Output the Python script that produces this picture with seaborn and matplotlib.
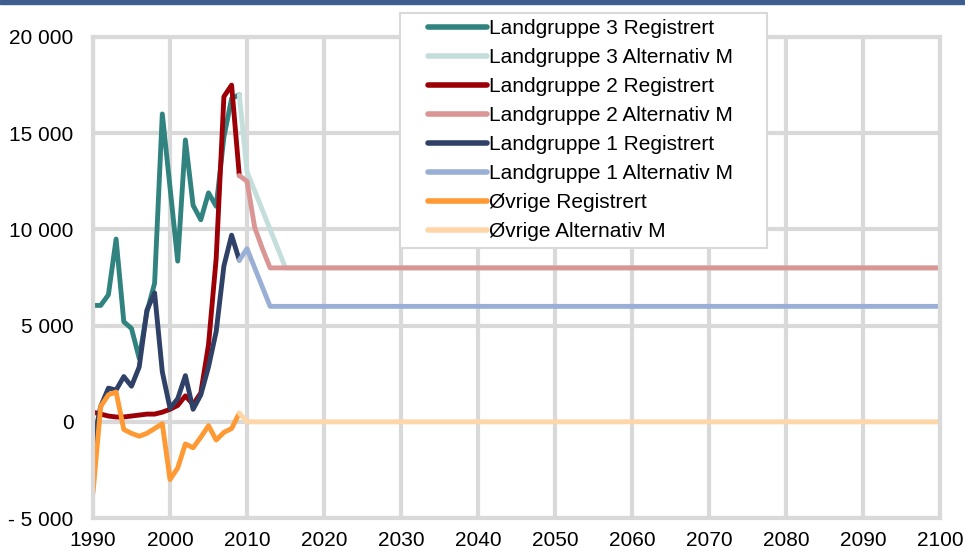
import matplotlib
matplotlib.use('Agg')
import matplotlib.pyplot as plt
from matplotlib.patches import Rectangle
from matplotlib.ticker import FuncFormatter
import seaborn as sns
import numpy as np
import pandas as pd

# registered years and the alternative (projection) break points
years_reg = list(range(1990, 2010))
years_alt = [2009, 2010, 2011, 2012, 2013, 2014, 2015, 2100]

lg3_reg = [6050, 6050, 6600, 9500, 5200, 4850, 3300, 5700, 7200, 16000,
           12200, 8350, 14650, 11250, 10500, 11900, 11200, 14800, 16800, 17000]
lg2_reg = [500, 400, 300, 250, 250, 300, 350, 400, 400, 500,
           650, 850, 1350, 900, 1500, 4000, 8500, 16900, 17500, 12800]
lg1_reg = [-1100, 800, 1750, 1650, 2350, 1850, 2850, 5800, 6700, 2600,
           700, 1200, 2400, 650, 1400, 2850, 4700, 8100, 9700, 8400]
ovr_reg = [-3700, 800, 1400, 1550, -400, -600, -750, -600, -350, -100,
           -3000, -2400, -1150, -1350, -800, -200, -950, -550, -350, 450]

lg3_alt = [17000, 13000, 12000, 11000, 10000, 9000, 8000, 8000]
lg2_alt = [12800, 12500, 10100, 9000, 8000, 8000, 8000, 8000]
lg1_alt = [8400, 9000, 8000, 7000, 6000, 6000, 6000, 6000]
ovr_alt = [450, 0, 0, 0, 0, 0, 0, 0]

names = ['Landgruppe 3 Registrert', 'Landgruppe 3 Alternativ M',
         'Landgruppe 2 Registrert', 'Landgruppe 2 Alternativ M',
         'Landgruppe 1 Registrert', 'Landgruppe 1 Alternativ M',
         'Øvrige Registrert', 'Øvrige Alternativ M']
colors = ['#31837F', '#C3DEDB', '#9C0006', '#D99694',
          '#2F4166', '#9AAFD6', '#FF9933', '#FFD6A8']

series = [(years_reg, lg3_reg), (years_alt, lg3_alt),
          (years_reg, lg2_reg), (years_alt, lg2_alt),
          (years_reg, lg1_reg), (years_alt, lg1_alt),
          (years_reg, ovr_reg), (years_alt, ovr_alt)]

rows = []
for name, (xs, ys) in zip(names, series):
    for x, y in zip(xs, ys):
        rows.append({'year': x, 'value': y, 'serie': name})
df = pd.DataFrame(rows)

sns.set_theme(style='white')
plt.rcParams['font.family'] = ['Liberation Sans', 'DejaVu Sans']

W, H = 965, 551
fig = plt.figure(figsize=(W/100, H/100), dpi=100)
ax = fig.add_axes([93/W, 1-518/H, (940-93)/W, (518-37)/H])

sns.lineplot(data=df, x='year', y='value', hue='serie', hue_order=names,
             palette=dict(zip(names, colors)), linewidth=3.5, ax=ax,
             sort=True, estimator=None)

grid_c = '#D9D9D9'
ax.set_xlim(1990, 2100)
ax.set_ylim(-5000, 20000)
ax.set_xticks(np.arange(1990, 2101, 10))
ax.set_yticks(np.arange(-5000, 20001, 5000))
ax.yaxis.set_major_formatter(FuncFormatter(
    lambda v, p: '0' if v == 0 else ('- ' if v < 0 else '') + f'{abs(int(v)):,}'.replace(',', ' ')))
ax.grid(True, color=grid_c, linewidth=3)
ax.set_axisbelow(True)
for s in ax.spines.values():
    s.set_color(grid_c)
    s.set_linewidth(3)
ax.tick_params(axis='both', length=0, labelsize=15, colors='black')
ax.tick_params(axis='y', pad=14)
ax.tick_params(axis='x', pad=9)
ax.set_xlabel('')
ax.set_ylabel('')

leg = ax.legend(loc='upper left', bbox_to_anchor=(428/W, 1-19/H),
                bbox_transform=fig.transFigure, fontsize=15, frameon=False,
                handlelength=2.85, handletextpad=0.1, labelspacing=0.48,
                borderpad=0, borderaxespad=0)
for line in leg.get_lines():
    line.set_linewidth(4)
for t in leg.get_texts():
    t.set_color('black')

# legend frame box
ax.add_patch(Rectangle((400/W, 1-248/H), 367/W, 235/H, transform=fig.transFigure,
                       facecolor='white', edgecolor=grid_c, linewidth=1.5,
                       clip_on=False, zorder=4.5))

# dark band along the top edge
fig.patches.append(Rectangle((0, 1-4/H), 1, 4/H, transform=fig.transFigure,
                             color='#3F5D8E', zorder=10))

fig.savefig('out.png', dpi=100)
